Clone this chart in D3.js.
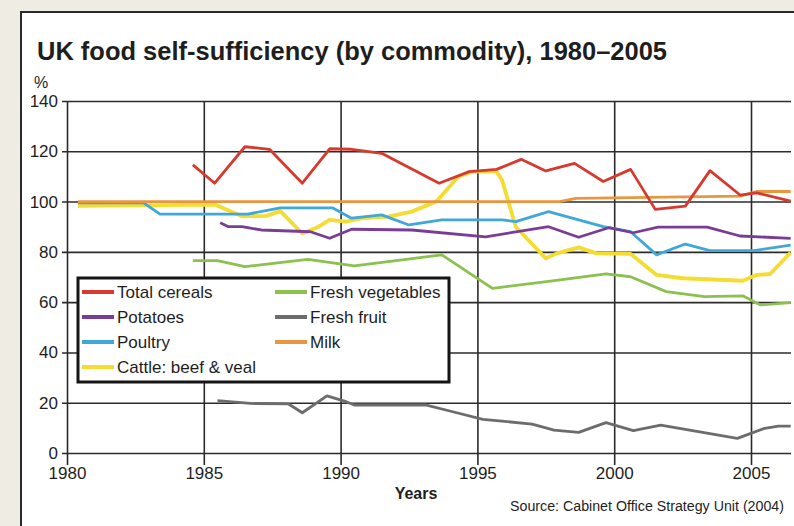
<!DOCTYPE html>
<html>
<head>
<meta charset="utf-8">
<script src="https://cdn.jsdelivr.net/npm/d3@7/dist/d3.min.js"></script>
<style>
  html, body { margin: 0; padding: 0; background: #efece4; }
  svg { display: block; }
  text { font-family: "Liberation Sans", Arial, sans-serif; fill: #1e1e1e; }
</style>
</head>
<body>
<svg id="chart" width="794" height="526"></svg>
<script>
// Self-sufficiency ratios (%) by commodity, as [year, percent]
const totalCereals = [[1984.6,114.6],[1985.4,107.3],[1986.5,121.8],[1987.4,120.8],[1988.6,107.3],[1989.6,121],[1990.4,120.8],[1991.5,119.2],[1993.6,107.3],[1994.7,111.9],[1995.7,112.8],[1996.6,116.8],[1997.5,112.2],[1998.55,115.2],[1999.6,108],[2000.6,112.8],[2001.5,96.9],[2002.6,98.2],[2003.5,112.3],[2004.6,102.6],[2005.2,103.5],[2006.45,100.2]];
const potatoes = [[1985.6,91.6],[1985.9,90],[1986.4,90],[1987.1,88.7],[1988.9,88],[1989.6,85.4],[1990.4,89],[1992.6,88.7],[1995.3,86],[1997.6,90],[1998.7,85.8],[1999.8,89.6],[2000.7,87.6],[2001.6,89.8],[2003.4,89.8],[2004.6,86.3],[2006.45,85.4]];
const poultry = [[1980.4,99.5],[1982.8,99.5],[1983.4,95],[1986.6,95],[1987.8,97.5],[1989.7,97.5],[1990.4,93.4],[1991.5,94.7],[1992.5,90.7],[1993.7,92.7],[1995.9,92.7],[1996.4,92],[1997.6,96],[1998.7,92.7],[1999.6,90],[2000.6,88],[2001.55,78.8],[2002.6,83.1],[2003.5,80.5],[2005.1,80.5],[2006.45,82.7]];
const cattle = [[1980.4,98.3],[1985.4,98.8],[1986.4,94.2],[1987.3,94.3],[1987.8,96.2],[1988.6,87.3],[1989.2,90],[1989.6,92.7],[1990.2,92],[1990.8,93.4],[1991.75,94],[1992.6,96],[1993.5,100],[1994.3,109.9],[1994.8,111.9],[1995.7,111.9],[1995.9,108.6],[1996.4,90],[1997.5,77.4],[1997.9,79.4],[1998.7,81.8],[1999.35,79.4],[2000.6,79.2],[2001.55,70.8],[2002.5,69.5],[2004.7,68.5],[2005.2,70.8],[2005.7,71.2],[2006.45,79.7]];
const freshVegetables = [[1984.6,76.5],[1985.5,76.5],[1986.5,74.1],[1988.8,77],[1990.5,74.4],[1993.7,78.8],[1995.55,65.5],[1997.6,68.3],[1999.7,71.2],[2000.6,70.1],[2001.9,64.2],[2003.3,62.2],[2004.7,62.5],[2005.35,58.9],[2006.45,59.8]];
const freshFruit = [[1985.5,20.8],[1986.7,19.7],[1988.1,19.5],[1988.6,16],[1989.5,22.7],[1990.2,20.4],[1990.5,19.1],[1993.1,19.1],[1994.1,16.4],[1995.2,13.4],[1997,11.5],[1997.8,9.1],[1998.7,8.2],[1999.7,12.1],[2000.7,8.9],[2001.7,11.1],[2004.5,5.8],[2005.5,9.8],[2006,10.7],[2006.45,10.7]];
const milk = [[1980.4,100],[1998,100],[1998.6,101.3],[2004.6,102.2],[2005.2,104],[2006.45,104]];

const xTicks = [1980, 1985, 1990, 1995, 2000, 2005];
const yTicks = [0, 20, 40, 60, 80, 100, 120, 140];

const seriesNames = ["Total cereals", "Potatoes", "Poultry", "Cattle: beef & veal", "Fresh vegetables", "Fresh fruit", "Milk"];
const seriesData = [totalCereals, potatoes, poultry, cattle, freshVegetables, freshFruit, milk];
const seriesColors = ["#d63a2e", "#7a3d96", "#3fa8d9", "#f4dc30", "#8cc14f", "#6c6c6c", "#e8963f"];
// back-to-front drawing order
const drawOrder = [5, 4, 3, 2, 1, 6, 0];

const titleText = "UK food self-sufficiency (by commodity), 1980\u20132005";
const sourceText = "Source: Cabinet Office Strategy Unit (2004)";

const svg = d3.select("#chart");

// white panel with a dark frame on the top and left
svg.append("rect")
  .attr("x", 21).attr("y", 12).attr("width", 800).attr("height", 540)
  .attr("fill", "#fff").attr("stroke", "#2a2a2a").attr("stroke-width", 2);

const x = d3.scaleLinear().domain([1980, 2005]).range([67, 751]);
const y = d3.scaleLinear().domain([0, 140]).range([453, 101]);
const xEnd = 791;

// title
svg.append("text")
  .attr("x", 37).attr("y", 60)
  .attr("textLength", 630).attr("lengthAdjust", "spacingAndGlyphs")
  .style("font-size", "26px").style("font-weight", 600)
  .text(titleText);

svg.append("text")
  .attr("x", 41).attr("y", 88)
  .attr("text-anchor", "middle")
  .style("font-size", "16px")
  .text("%");

// horizontal grid / y axis ticks
const yAxis = d3.axisLeft(y).tickValues(yTicks).tickSize(-(xEnd - 67)).tickPadding(9);
const gy = svg.append("g").attr("transform", "translate(67,0)").call(yAxis);
gy.select(".domain").remove();
gy.selectAll(".tick line").attr("stroke", "#2b2b2b").attr("stroke-width", 1.6).attr("x1", -5);
gy.selectAll(".tick text").style("font-size", "17px").style("font-family", "'Liberation Sans', Arial, sans-serif").attr("fill", "#1e1e1e");

// vertical grid / x axis ticks
const xAxis = d3.axisBottom(x).tickValues(xTicks).tickFormat(d3.format("d")).tickSize(12).tickPadding(2);
const gx = svg.append("g").attr("transform", "translate(0,453)").call(xAxis);
gx.select(".domain").remove();
gx.selectAll(".tick line").attr("stroke", "#2b2b2b").attr("stroke-width", 1.6).attr("y1", -(453 - 101));
gx.selectAll(".tick text").style("font-size", "17px").style("font-family", "'Liberation Sans', Arial, sans-serif").attr("fill", "#1e1e1e");

// series lines
const line = d3.line().x(d => x(d[0])).y(d => y(d[1])).curve(d3.curveLinear);
const gLines = svg.append("g");
drawOrder.forEach(i => {
  gLines.append("path")
    .datum(seriesData[i])
    .attr("d", line)
    .attr("fill", "none")
    .attr("stroke", seriesColors[i])
    .attr("stroke-width", i === 3 ? 3.8 : 2.8)
    .attr("stroke-linejoin", "round")
    .attr("stroke-linecap", "butt");
});

// legend
const legend = svg.append("g");
legend.append("rect")
  .attr("x", 78).attr("y", 278).attr("width", 371).attr("height", 104)
  .attr("fill", "#fff").attr("stroke", "#151515").attr("stroke-width", 3);

const legendLayout = [
  { i: 0, col: 0, row: 0 }, { i: 1, col: 0, row: 1 }, { i: 2, col: 0, row: 2 }, { i: 3, col: 0, row: 3 },
  { i: 4, col: 1, row: 0 }, { i: 5, col: 1, row: 1 }, { i: 6, col: 1, row: 2 }
];
legendLayout.forEach(e => {
  const lx = e.col === 0 ? 82 : 275;
  const ly = 292 + e.row * 25;
  legend.append("line")
    .attr("x1", lx).attr("x2", lx + 32).attr("y1", ly).attr("y2", ly)
    .attr("stroke", seriesColors[e.i]).attr("stroke-width", 4);
  legend.append("text")
    .attr("x", lx + 35).attr("y", ly + 6)
    .style("font-size", "17px")
    .text(seriesNames[e.i]);
});

// axis title and source
svg.append("text")
  .attr("x", 416).attr("y", 499)
  .attr("text-anchor", "middle")
  .style("font-size", "16px").style("font-weight", 600)
  .text("Years");

svg.append("text")
  .attr("x", 510).attr("y", 511)
  .attr("textLength", 274).attr("lengthAdjust", "spacingAndGlyphs")
  .style("font-size", "14px")
  .text(sourceText);
</script>
</body>
</html>
